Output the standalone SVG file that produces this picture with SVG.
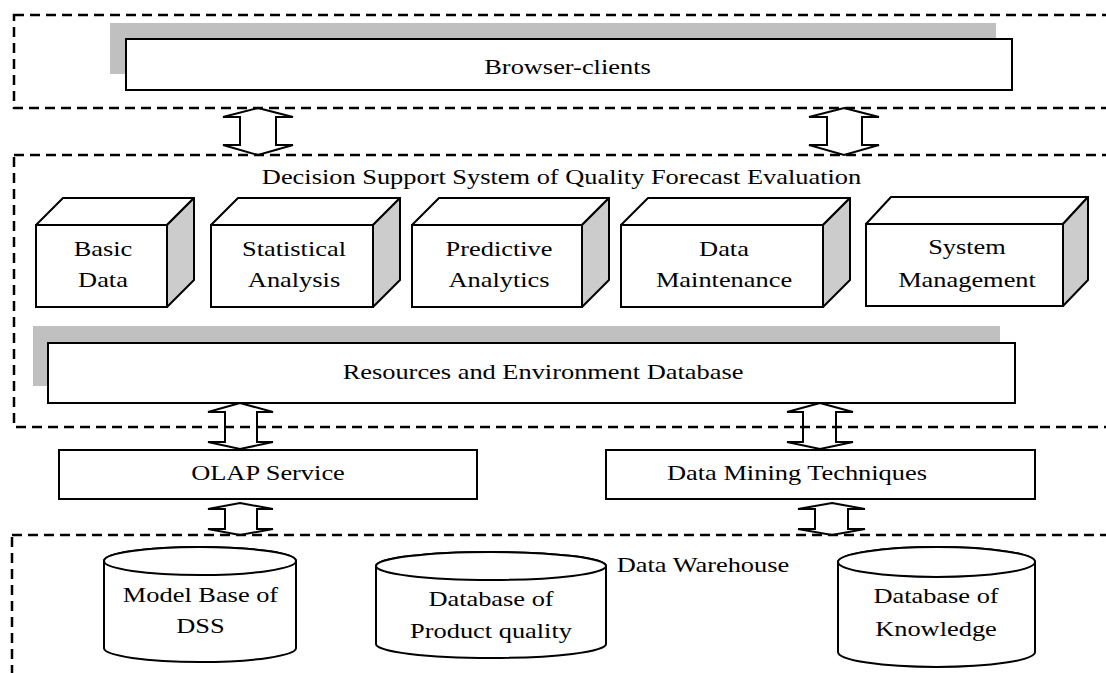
<svg xmlns="http://www.w3.org/2000/svg" width="1106" height="673" viewBox="0 0 1106 673">
<style>
.cont{fill:none;stroke:#000;stroke-width:2.5;stroke-dasharray:10 6}
.box{fill:#fff;stroke:#000;stroke-width:2}
.shadow{fill:#c0c0c0;stroke:none}
.side{fill:#cccccc;stroke:#000;stroke-width:2;stroke-linejoin:round}
.top{fill:#fff;stroke:#000;stroke-width:2;stroke-linejoin:round}
.arr{fill:none;stroke:#000;stroke-width:2;stroke-linejoin:miter}
text{font-family:"Liberation Serif","Times New Roman",serif;font-size:22px;fill:#000;text-anchor:middle}
.l{text-anchor:start}
</style>
<rect width="1106" height="673" fill="#fff"/>
<g id="containers">
<rect class="cont" x="14" y="15" width="1110" height="93"/>
<rect class="cont" x="14" y="155" width="1110" height="272"/>
<rect class="cont" x="12" y="535" width="1110" height="200"/>
</g>
<g id="browser-clients">
<rect class="shadow" x="110" y="23" width="886" height="51"/>
<rect class="box" x="126" y="39" width="886" height="51"/>
<g transform="translate(567.5,74) scale(1.2,1)"><text x="0" y="0">Browser-clients</text></g>
</g>
<g id="dss-title">
<g transform="translate(561.5,184) scale(1.2,1)"><text x="0" y="0">Decision Support System of Quality Forecast Evaluation</text></g>
</g>
<g id="basic-data">
<polygon class="top" points="36,225 63,198 194,198 167,225"/>
<polygon class="side" points="167,225 194,198 194,280 167,307"/>
<rect class="box" x="36" y="225" width="131" height="82"/>
<g transform="translate(103,256) scale(1.2,1)"><text x="0" y="0">Basic</text></g>
<g transform="translate(103,287) scale(1.2,1)"><text x="0" y="0">Data</text></g>
</g>
<g id="statistical-analysis">
<polygon class="top" points="211,225 238,198 400,198 373,225"/>
<polygon class="side" points="373,225 400,198 400,280 373,307"/>
<rect class="box" x="211" y="225" width="162" height="82"/>
<g transform="translate(294,256) scale(1.2,1)"><text x="0" y="0">Statistical</text></g>
<g transform="translate(294,287) scale(1.2,1)"><text x="0" y="0">Analysis</text></g>
</g>
<g id="predictive-analytics">
<polygon class="top" points="412,225 439,198 609,198 582,225"/>
<polygon class="side" points="582,225 609,198 609,280 582,307"/>
<rect class="box" x="412" y="225" width="170" height="82"/>
<g transform="translate(499,256) scale(1.2,1)"><text x="0" y="0">Predictive</text></g>
<g transform="translate(499,287) scale(1.2,1)"><text x="0" y="0">Analytics</text></g>
</g>
<g id="data-maintenance">
<polygon class="top" points="621,225 648,198 850,198 823,225"/>
<polygon class="side" points="823,225 850,198 850,280 823,307"/>
<rect class="box" x="621" y="225" width="202" height="82"/>
<g transform="translate(724,256) scale(1.2,1)"><text x="0" y="0">Data</text></g>
<g transform="translate(724,287) scale(1.2,1)"><text x="0" y="0">Maintenance</text></g>
</g>
<g id="system-management">
<polygon class="top" points="866,224 891,197 1088,197 1063,224"/>
<polygon class="side" points="1063,224 1088,197 1088,280 1063,306"/>
<rect class="box" x="866" y="224" width="197" height="82"/>
<g transform="translate(967,254) scale(1.2,1)"><text x="0" y="0">System</text></g>
<g transform="translate(967,287) scale(1.2,1)"><text x="0" y="0">Management</text></g>
</g>
<g id="resources-db">
<rect class="shadow" x="33" y="326" width="967" height="60"/>
<rect class="box" x="48" y="343" width="967" height="60"/>
<g transform="translate(543,379) scale(1.2,1)"><text x="0" y="0">Resources and Environment Database</text></g>
</g>
<g id="olap-service">
<rect class="box" x="59" y="450" width="418" height="49"/>
<g transform="translate(268,480) scale(1.2,1)"><text x="0" y="0">OLAP Service</text></g>
</g>
<g id="data-mining">
<rect class="box" x="606" y="450" width="429" height="49"/>
<g transform="translate(797,480) scale(1.2,1)"><text x="0" y="0">Data Mining Techniques</text></g>
</g>
<g id="data-warehouse-label">
<g transform="translate(703,572) scale(1.2,1)"><text x="0" y="0">Data Warehouse</text></g>
</g>
<g id="model-base">
<path class="box" d="M104,561 A96,14 0 0 1 296,561 L296,648 A96,14 0 0 1 104,648 Z"/>
<ellipse class="box" cx="200" cy="561" rx="96" ry="14"/>
<g transform="translate(200.5,602) scale(1.2,1)"><text x="0" y="0">Model Base of</text></g>
<g transform="translate(200.5,633) scale(1.2,1)"><text x="0" y="0">DSS</text></g>
</g>
<g id="product-quality-db">
<path class="box" d="M376,566 A115,14 0 0 1 606,566 L606,644 A115,14 0 0 1 376,644 Z"/>
<ellipse class="box" cx="491" cy="566" rx="115" ry="14"/>
<g transform="translate(491,606) scale(1.2,1)"><text x="0" y="0">Database of</text></g>
<g transform="translate(491,638) scale(1.2,1)"><text x="0" y="0">Product quality</text></g>
</g>
<g id="knowledge-db">
<path class="box" d="M838,562 A98.5,15 0 0 1 1035,562 L1035,652 A98.5,15 0 0 1 838,652 Z"/>
<ellipse class="box" cx="936.5" cy="562" rx="98.5" ry="15"/>
<g transform="translate(936,603) scale(1.2,1)"><text x="0" y="0">Database of</text></g>
<g transform="translate(936,636) scale(1.2,1)"><text x="0" y="0">Knowledge</text></g>
</g>
<g id="connectors">
<polygon class="arr" points="258,108 293,117 276,117 276,145 293,145 258,155 223,145 240,145 240,117 223,117"/>
<polygon class="arr" points="844,108 879,117 862,117 862,145 879,145 844,155 809,145 827,145 827,117 809,117"/>
<polygon class="arr" points="240,403 273,412 257,412 257,442 273,442 240,449 208,442 225,442 225,412 208,412"/>
<polygon class="arr" points="820,403 853,412 836,412 836,442 853,442 820,449 787,442 803,442 803,412 787,412"/>
<polygon class="arr" points="240,503 273,509 257,509 257,529 273,529 240,535 208,529 225,529 225,509 208,509"/>
<polygon class="arr" points="832,503 865,509 848,509 848,529 865,529 832,535 798,529 815,529 815,509 798,509"/>
</g>
</svg>
